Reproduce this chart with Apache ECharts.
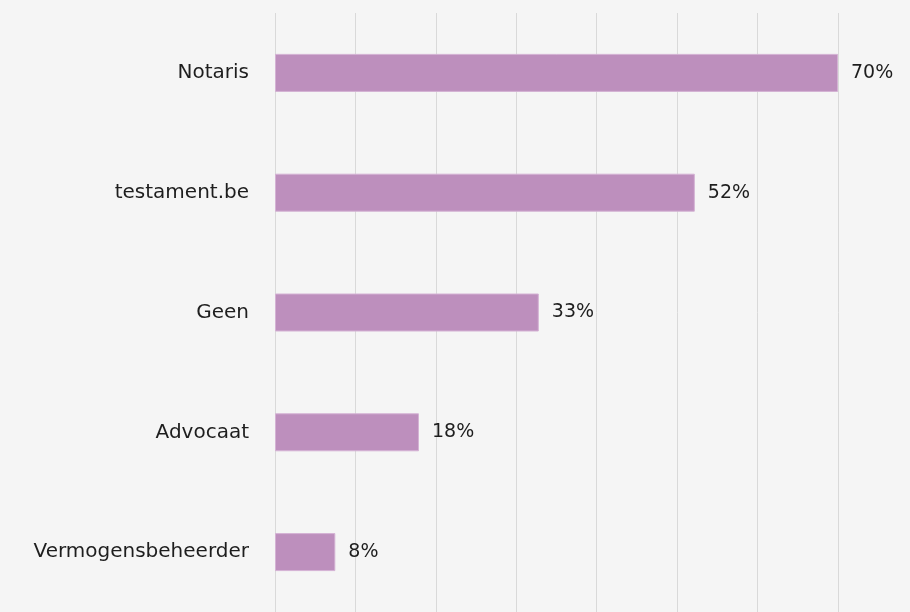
<!DOCTYPE html>
<html>
<head>
<meta charset="utf-8">
<script src="https://cdn.jsdelivr.net/npm/echarts@6/dist/echarts.min.js"></script>
<style>
  html, body { margin: 0; padding: 0; background: #f5f5f5; }
  #chart { width: 910px; height: 612px; }
</style>
</head>
<body>
<div id="chart"></div>
<script>
// categories top to bottom
const categories = ['Notaris', 'testament.be', 'Geen', 'Advocaat', 'Vermogensbeheerder'];
const values = [70, 52.2, 32.8, 17.9, 7.5];
const labels = ['70%', '52%', '33%', '18%', '8%'];

const chart = echarts.init(document.getElementById('chart'), null, { renderer: 'canvas' });

chart.setOption({
  backgroundColor: '#f5f5f5',
  animation: false,
  grid: { left: 275, right: 72, top: 13, bottom: -5, containLabel: false },
  xAxis: {
    type: 'value',
    min: 0,
    max: 70,
    interval: 10,
    axisLabel: { show: false },
    axisLine: { show: false },
    axisTick: { show: false },
    splitLine: { show: true, lineStyle: { color: '#d9d9d9', width: 1 } }
  },
  yAxis: {
    type: 'category',
    inverse: true,
    data: categories,
    axisLine: { show: false },
    axisTick: { show: false },
    axisLabel: {
      margin: 26,
      color: '#1e1e1e',
      fontFamily: 'DejaVu Sans',
      fontSize: 20
    }
  },
  series: [{
    type: 'bar',
    data: values,
    barWidth: 38,
    itemStyle: { color: '#bd8fbd', borderColor: '#d4b2d4', borderWidth: 1 },
    label: {
      show: true,
      position: 'right',
      distance: 13,
      color: '#1e1e1e',
      fontFamily: 'DejaVu Sans',
      fontSize: 19,
      formatter: p => labels[p.dataIndex]
    }
  }]
});
</script>
</body>
</html>
